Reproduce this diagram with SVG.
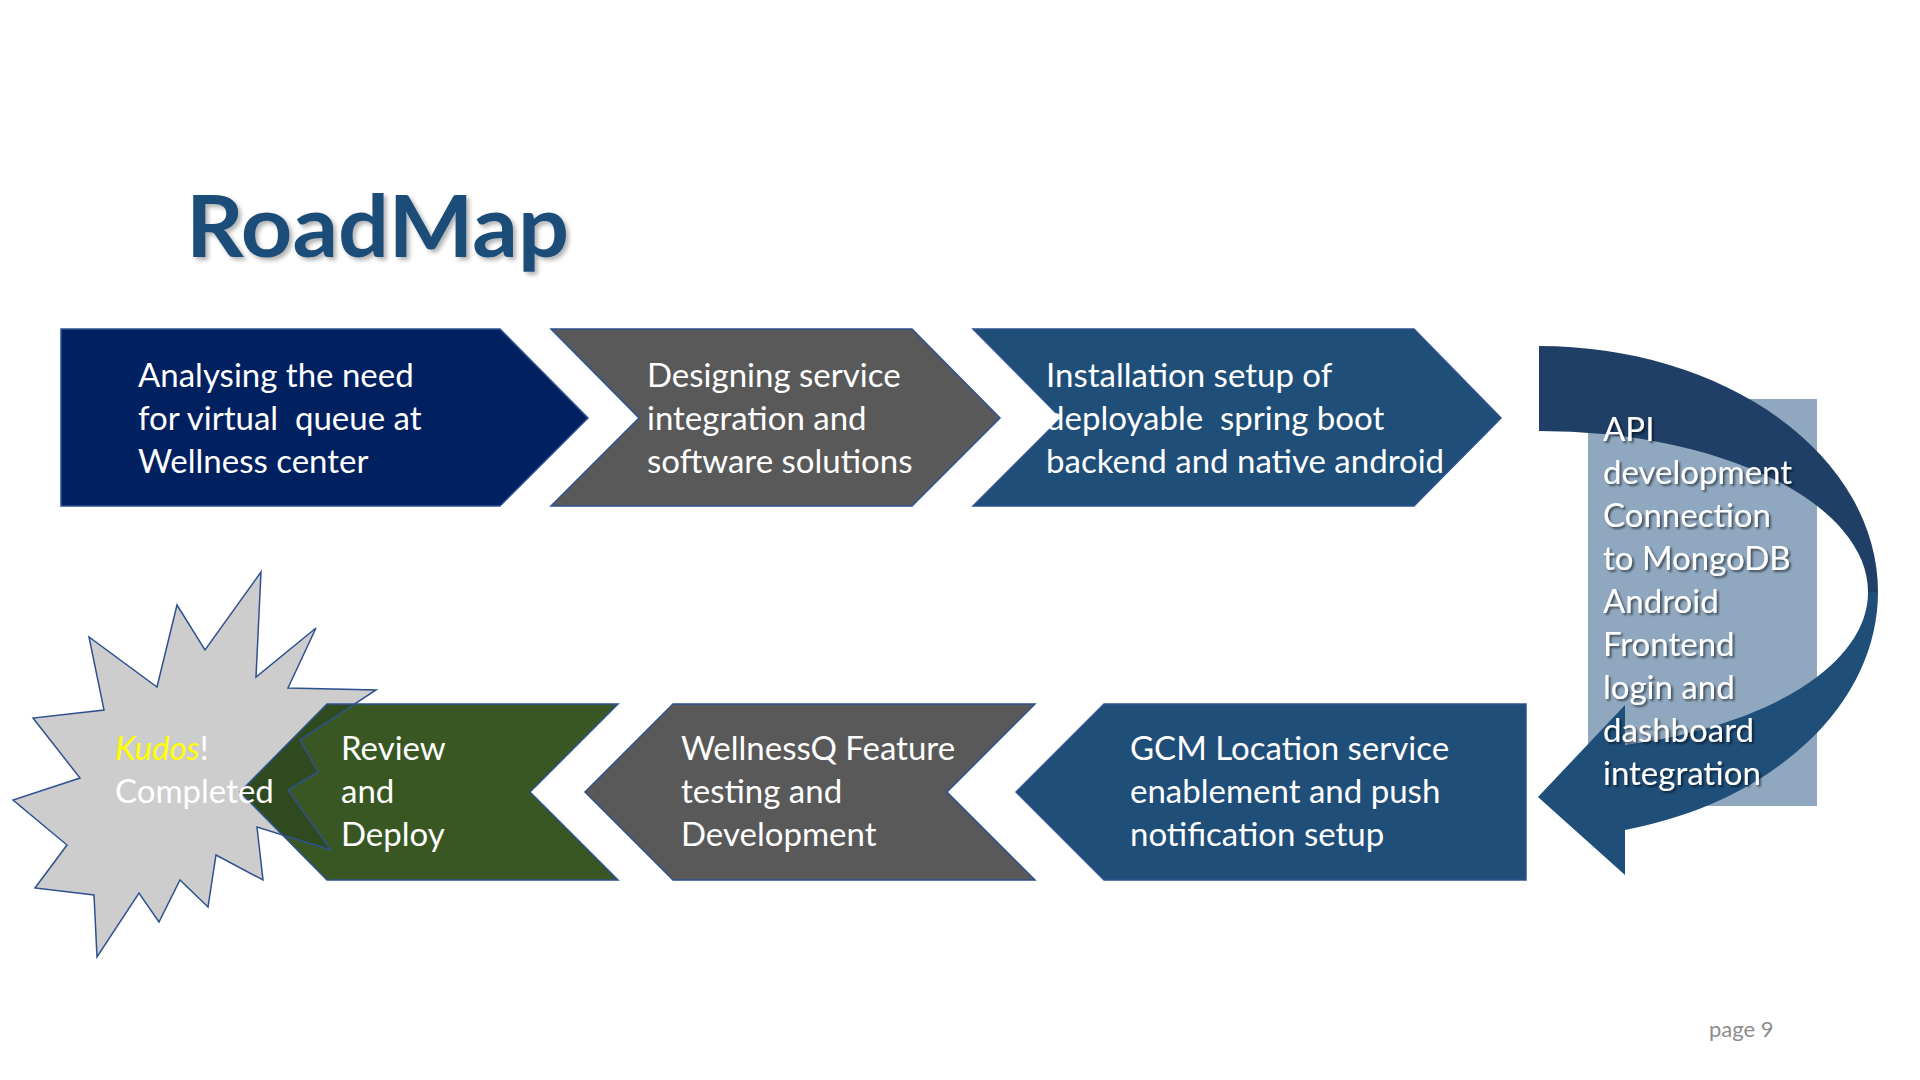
<svg xmlns="http://www.w3.org/2000/svg" xmlns:xlink="http://www.w3.org/1999/xlink" width="1920" height="1080" viewBox="0 0 1920 1080">
<style>
.t{font-family:Lato,"Open Sans","Liberation Sans",sans-serif;font-size:33px;fill:#FFFFFF}
.chev{stroke:#2F528F;stroke-width:1.5}
.navy{fill:#002060}
.gray{fill:#595959}
.blue{fill:#1F4E79}
.green{fill:#385723}
.title{font-family:Lato,"Open Sans","Liberation Sans",sans-serif;font-size:86px;font-weight:bold;fill:#1F4E79}
.page{font-family:Lato,"Open Sans","Liberation Sans",sans-serif;font-size:22px;fill:#8C8C8C}
</style>
<defs>
<filter id="tsh" x="-10%" y="-10%" width="120%" height="140%">
<feDropShadow dx="3" dy="3" stdDeviation="2" flood-color="#000" flood-opacity="0.3"/>
</filter>
<filter id="wsh" x="-10%" y="-20%" width="130%" height="150%">
<feDropShadow dx="2" dy="2" stdDeviation="1.2" flood-color="#000" flood-opacity="0.55"/>
</filter>
<polygon id="star" points="261,572 256,677 316,628 288,688 376,690 300,740 318,772 288,790 331,850 257,827 263,880 216,855 208,907 180,880 159,922 139,893 97,957 94,895 35,888 67,845 13,800 80,778 33,718 104,710 89,637 157,687 177,605 205,650"/>
<polygon id="revShape" points="618,704 530,792 618,880 327,880 240,792 327,704"/>
<clipPath id="revClip"><use xlink:href="#revShape"/></clipPath>
</defs>
<rect width="1920" height="1080" fill="#FFFFFF"/>

<text class="title" x="186" y="257" textLength="383" lengthAdjust="spacingAndGlyphs" filter="url(#tsh)">RoadMap</text>

<g id="step1">
<polygon class="chev navy" points="61,329 500,329 588,418 500,506 61,506"/>
<text class="t" x="138" y="387">Analysing the need</text>
<text class="t" x="138" y="430" xml:space="preserve">for virtual  queue at</text>
<text class="t" x="138" y="473">Wellness center</text>
</g>

<g id="step2">
<polygon class="chev gray" points="551,329 912,329 1000,418 912,506 551,506 639,418"/>
<text class="t" x="647" y="387">Designing service</text>
<text class="t" x="647" y="430">integration and</text>
<text class="t" x="647" y="473">software solutions</text>
</g>

<g id="step3">
<polygon class="chev blue" points="973,329 1414,329 1501,418 1414,506 973,506 1061,418"/>
<text class="t" x="1046" y="387">Installation setup of</text>
<text class="t" x="1046" y="430" xml:space="preserve">deployable  spring boot</text>
<text class="t" x="1046" y="473">backend and native android</text>
</g>

<g id="step4">
<rect x="1588" y="399" width="229" height="407" fill="#8FA8C0"/>
</g>

<g id="connectors">
<path d="M1539,346 A339,246 0 0 1 1878,592 L1868,592 A329,161 0 0 0 1539,431 Z" fill="#1F3F66"/>
<path d="M1878,592 A339,246 0 0 1 1625,830 L1625,875 L1538,797 L1625,705 L1625,745 A329,158 0 0 0 1868,592 Z" fill="#1F4E79"/>
</g>

<g id="step4-text" filter="url(#wsh)">
<text class="t" x="1603" y="441">API</text>
<text class="t" x="1603" y="484">development</text>
<text class="t" x="1603" y="527">Connection</text>
<text class="t" x="1603" y="570">to MongoDB</text>
<text class="t" x="1603" y="613">Android</text>
<text class="t" x="1603" y="656">Frontend</text>
<text class="t" x="1603" y="699">login and</text>
<text class="t" x="1603" y="742">dashboard</text>
<text class="t" x="1603" y="785">integration</text>
</g>

<g id="step5">
<polygon class="chev blue" points="1526,704 1526,880 1104,880 1016,792 1104,704"/>
<text class="t" x="1130" y="760">GCM Location service</text>
<text class="t" x="1130" y="803">enablement and push</text>
<text class="t" x="1130" y="846">notification setup</text>
</g>

<g id="step6">
<polygon class="chev gray" points="1035,704 947,792 1035,880 673,880 585,792 673,704"/>
<text class="t" x="681" y="760">WellnessQ Feature</text>
<text class="t" x="681" y="803">testing and</text>
<text class="t" x="681" y="846">Development</text>
</g>

<g id="kudos">
<use xlink:href="#star" fill="#CDCDCD" stroke="#2F528F" stroke-width="1.5"/>
</g>

<g id="step7">
<use xlink:href="#revShape" class="green"/>
<use xlink:href="#star" fill="#2F4A1E" stroke="#2F528F" stroke-width="1.5" clip-path="url(#revClip)"/>
<use xlink:href="#revShape" fill="none" stroke="#2F528F" stroke-width="1.5"/>
<text class="t" x="341" y="760">Review</text>
<text class="t" x="341" y="803">and</text>
<text class="t" x="341" y="846">Deploy</text>
</g>

<g id="kudos-text">
<text class="t" x="115" y="760"><tspan font-style="italic" fill="#FFFF00">Kudos</tspan>!</text>
<text class="t" x="115" y="803">Completed</text>
</g>

<text class="page" x="1709" y="1037">page 9</text>
</svg>
